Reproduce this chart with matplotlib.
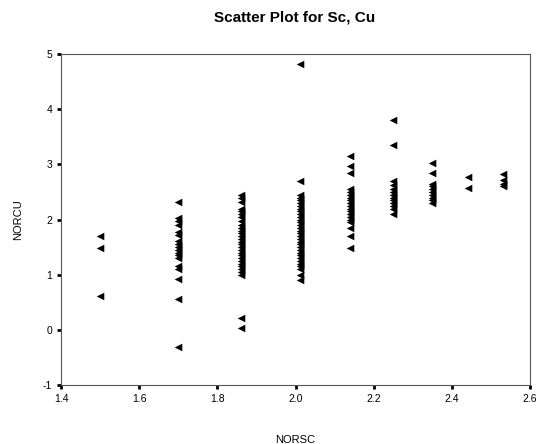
import matplotlib
matplotlib.use('Agg')
import matplotlib.pyplot as plt

plt.rcParams['font.family'] = 'Liberation Sans'
plt.rcParams['axes.unicode_minus'] = False

# NORSC columns and NORCU values in each
sc_vals = [1.50, 1.70, 1.86, 2.01, 2.14, 2.25, 2.35, 2.44, 2.53]
cu_vals = [
    [1.70, 1.48, 0.62],
    [2.32, 2.02, 1.98, 1.90, 1.78, 1.72, 1.62, 1.55, 1.50, 1.45, 1.40, 1.35, 1.30,
     1.15, 1.10, 0.92, 0.55, -0.32],
    [2.45, 2.40, 2.32, 2.20, 2.15, 2.10, 2.05, 1.98, 1.90, 1.85, 1.80, 1.75, 1.70,
     1.65, 1.60, 1.55, 1.50, 1.45, 1.40, 1.35, 1.30, 1.25, 1.20, 1.15, 1.10, 1.05,
     1.00, 0.22, 0.03],
    [4.83, 2.70, 2.45, 2.40, 2.35, 2.30, 2.25, 2.20, 2.15, 2.10, 2.05, 2.00, 1.95,
     1.90, 1.85, 1.80, 1.75, 1.70, 1.65, 1.60, 1.55, 1.50, 1.45, 1.40, 1.35, 1.30,
     1.25, 1.20, 1.15, 1.10, 1.00, 0.90],
    [3.15, 2.98, 2.85, 2.55, 2.50, 2.45, 2.40, 2.35, 2.30, 2.25, 2.20, 2.15, 2.10,
     2.05, 2.00, 1.95, 1.85, 1.70, 1.48],
    [3.80, 3.35, 2.70, 2.62, 2.55, 2.50, 2.45, 2.40, 2.35, 2.30, 2.25, 2.20, 2.10],
    [3.02, 2.85, 2.65, 2.60, 2.55, 2.50, 2.45, 2.40, 2.35, 2.30],
    [2.78, 2.58],
    [2.82, 2.72, 2.65, 2.60],
]

fig = plt.figure(figsize=(5.36, 4.44), dpi=100)
ax = fig.add_axes([0.114, 0.133, 0.875, 0.745])
for sc, cus in zip(sc_vals, cu_vals):
    ax.scatter([sc] * len(cus), cus, marker='<', s=30, color='black', linewidths=0)

ax.set_xlim(1.4, 2.6)
ax.set_ylim(-1, 5)
ax.set_xticks([1.4, 1.6, 1.8, 2.0, 2.2, 2.4, 2.6])
ax.set_xticklabels(['1.4', '1.6', '1.8', '2.0', '2.2', '2.4', '2.6'])
ax.set_yticks(range(-1, 6))
ax.tick_params(labelsize=7.5, length=3, width=2, direction='out')
for sp in ax.spines.values():
    sp.set_color('#555555')
ax.set_xlabel('NORSC', fontsize=8, labelpad=22)
ax.set_ylabel('NORCU', fontsize=8, labelpad=14)
fig.text(0.55, 0.96, 'Scatter Plot for Sc, Cu', ha='center', va='center',
         fontsize=11, fontweight='bold')
fig.savefig('out.png', dpi=100)
